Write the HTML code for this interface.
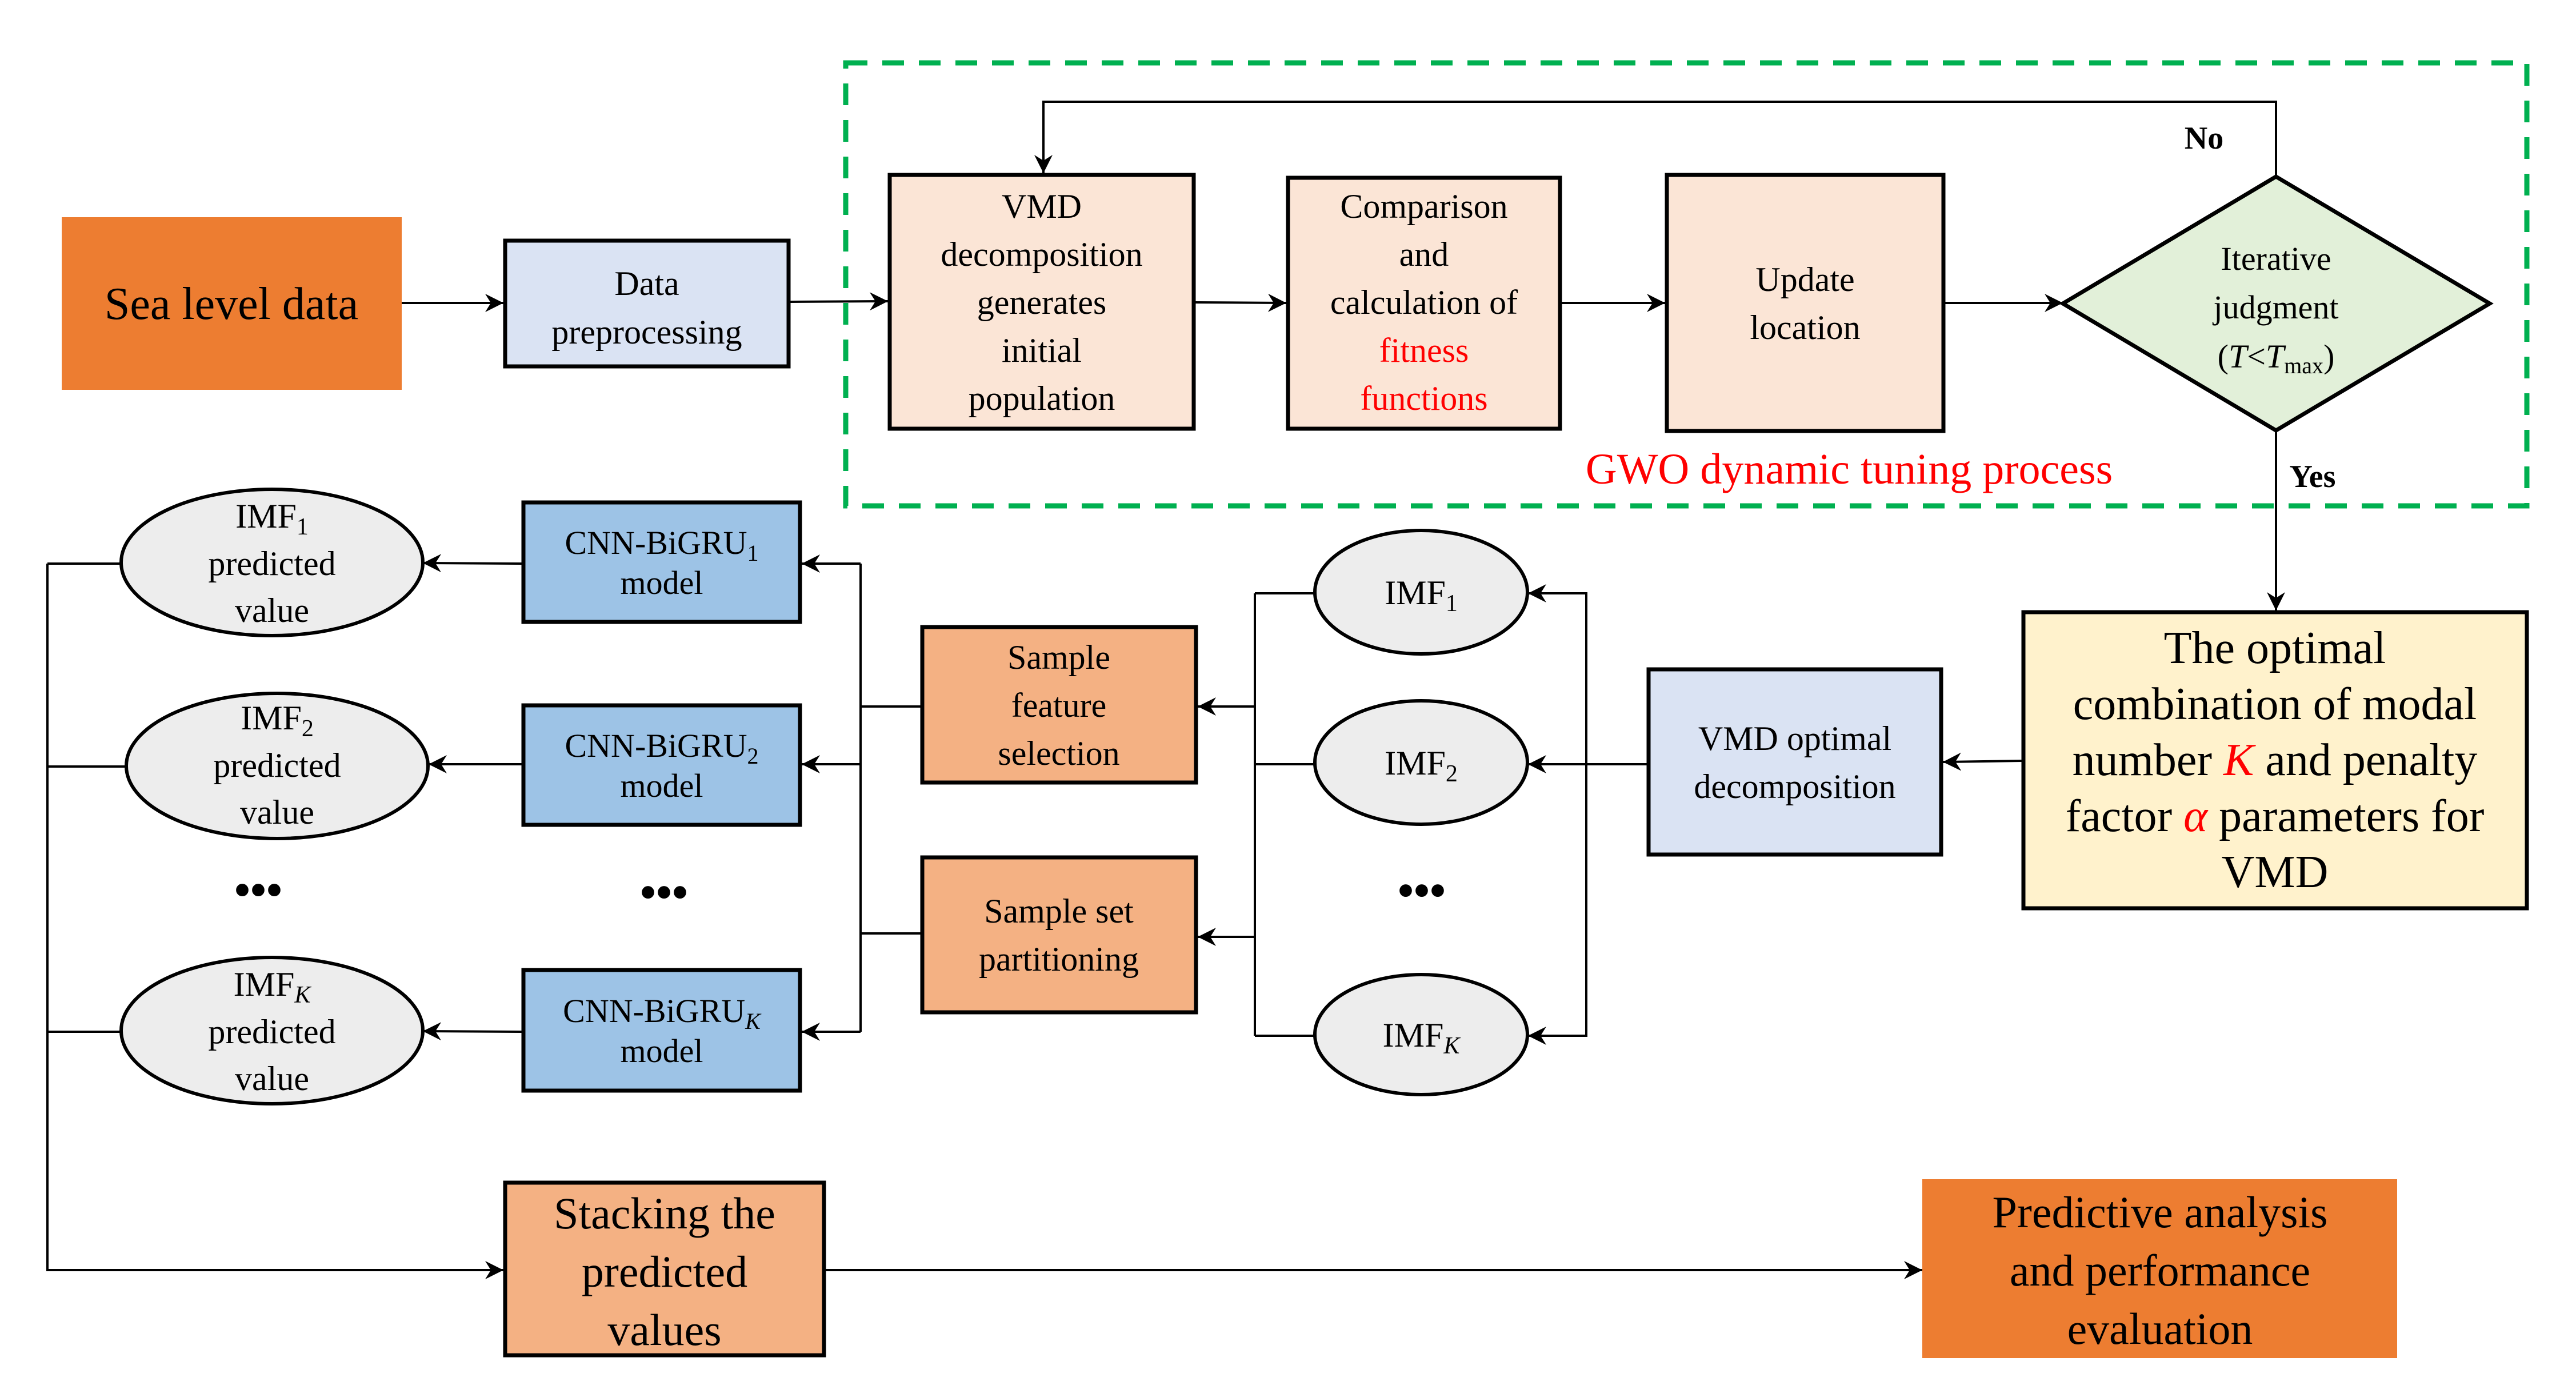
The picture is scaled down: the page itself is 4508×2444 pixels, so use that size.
<!DOCTYPE html>
<html><head><meta charset="utf-8"><style>
html,body{margin:0;padding:0;background:#fff;}
svg{display:block;}
svg text{font-family:"Liberation Serif","DejaVu Serif",serif;fill:#000;text-anchor:middle;}
</style></head><body>
<svg width="4508" height="2444" viewBox="0 0 4508 2444" xmlns="http://www.w3.org/2000/svg" font-family="Liberation Serif, DejaVu Serif, serif">
<defs>
<marker id="a" markerUnits="userSpaceOnUse" markerWidth="38" markerHeight="38" refX="32" refY="16" orient="auto">
<path d="M0,0 L32,16 L0,32 L10,16 z" fill="#000"/>
</marker>
</defs>
<rect width="4508" height="2444" fill="#fff"/>

<rect x="1480" y="110" width="2942" height="775" fill="none" stroke="#00B050" stroke-width="9" stroke-dasharray="38,26"/>

<g stroke="#000" stroke-width="4" fill="none">
<line x1="703" y1="530" x2="881" y2="530" marker-end="url(#a)"/>
<line x1="1383" y1="528" x2="1554" y2="527" marker-end="url(#a)"/>
<line x1="2092" y1="529" x2="2251" y2="530" marker-end="url(#a)"/>
<line x1="2733" y1="530" x2="2914" y2="530" marker-end="url(#a)"/>
<line x1="3404" y1="530" x2="3610" y2="530" marker-end="url(#a)"/>
<polyline points="3983,309 3983,178 1826,178 1826,303" marker-end="url(#a)"/>
<line x1="3983" y1="753" x2="3983" y2="1068" marker-end="url(#a)"/>
<line x1="3538" y1="1331" x2="3400" y2="1333" marker-end="url(#a)"/>
<line x1="2882" y1="1337" x2="2674" y2="1337" marker-end="url(#a)"/>
<polyline points="2776,1337 2776,1038 2674,1038" marker-end="url(#a)"/>
<polyline points="2776,1337 2776,1812 2674,1812" marker-end="url(#a)"/>
<line x1="2300" y1="1038" x2="2196" y2="1038"/>
<line x1="2300" y1="1337" x2="2196" y2="1337"/>
<line x1="2300" y1="1812" x2="2196" y2="1812"/>
<line x1="2196" y1="1038" x2="2196" y2="1812"/>
<line x1="2196" y1="1236" x2="2096" y2="1236" marker-end="url(#a)"/>
<line x1="2196" y1="1639" x2="2096" y2="1639" marker-end="url(#a)"/>
<line x1="1611" y1="1236" x2="1506" y2="1236"/>
<line x1="1611" y1="1633" x2="1506" y2="1633"/>
<line x1="1506" y1="986" x2="1506" y2="1805"/>
<line x1="1506" y1="986" x2="1403" y2="986" marker-end="url(#a)"/>
<line x1="1506" y1="1337" x2="1403" y2="1337" marker-end="url(#a)"/>
<line x1="1506" y1="1805" x2="1403" y2="1805" marker-end="url(#a)"/>
<line x1="913" y1="986" x2="740" y2="985" marker-end="url(#a)"/>
<line x1="913" y1="1337" x2="750" y2="1337" marker-end="url(#a)"/>
<line x1="913" y1="1805" x2="740" y2="1804" marker-end="url(#a)"/>
<line x1="211" y1="986" x2="83" y2="986"/>
<line x1="220" y1="1341" x2="83" y2="1341"/>
<line x1="211" y1="1805" x2="83" y2="1805"/>
<polyline points="83,986 83,2222 881,2222" marker-end="url(#a)"/>
<line x1="1445" y1="2222" x2="3364" y2="2222" marker-end="url(#a)"/>
</g>

<g font-family="Liberation Serif, DejaVu Serif, serif">
<rect x="108" y="380" width="595" height="302" fill="#ED7D31"/>
<text x="405" y="558" font-size="80">Sea level data</text>

<rect x="884" y="421" width="496" height="220" fill="#DAE3F3" stroke="#000" stroke-width="7"/>
<text x="1132" y="516" font-size="60">Data</text>
<text x="1132" y="601" font-size="60">preprocessing</text>

<rect x="1557" y="306" width="532" height="444" fill="#FBE5D6" stroke="#000" stroke-width="7"/>
<g font-size="60">
<text x="1823" y="381">VMD</text>
<text x="1823" y="465">decomposition</text>
<text x="1823" y="549">generates</text>
<text x="1823" y="633">initial</text>
<text x="1823" y="717">population</text>
</g>

<rect x="2254" y="311" width="476" height="439" fill="#FBE5D6" stroke="#000" stroke-width="7"/>
<g font-size="60">
<text x="2492" y="381">Comparison</text>
<text x="2492" y="465">and</text>
<text x="2492" y="549">calculation of</text>
<text x="2492" y="633" style="fill:#FF0000">fitness</text>
<text x="2492" y="717" style="fill:#FF0000">functions</text>
</g>

<rect x="2917" y="306" width="484" height="448" fill="#FBE5D6" stroke="#000" stroke-width="7"/>
<text x="3159" y="509" font-size="60">Update</text>
<text x="3159" y="593" font-size="60">location</text>

<polygon points="3983,309 4357,531 3983,753 3610,531" fill="#E2F0D9" stroke="#000" stroke-width="7"/>
<g font-size="58">
<text x="3983" y="472">Iterative</text>
<text x="3983" y="557">judgment</text>
<text x="3983" y="643">(<tspan font-style="italic">T</tspan>&lt;<tspan font-style="italic">T</tspan><tspan font-size="40" dy="10">max</tspan><tspan dy="-10">)</tspan></text>
</g>
<text x="3857" y="260" font-size="56" font-weight="bold">No</text>
<text x="4047" y="852" font-size="56" font-weight="bold">Yes</text>
<text x="3236" y="846" font-size="76" style="fill:#FF0000">GWO dynamic tuning process</text>

<rect x="3541" y="1071" width="881" height="518" fill="#FFF2CC" stroke="#000" stroke-width="7"/>
<g font-size="80">
<text x="3981" y="1160">The optimal</text>
<text x="3981" y="1258">combination of modal</text>
<text x="3981" y="1356">number <tspan font-style="italic" style="fill:#FF0000">K</tspan> and penalty</text>
<text x="3981" y="1454">factor <tspan font-style="italic" style="fill:#FF0000">α</tspan> parameters for</text>
<text x="3981" y="1552">VMD</text>
</g>

<rect x="2885" y="1171" width="512" height="324" fill="#DAE3F3" stroke="#000" stroke-width="7"/>
<text x="3141" y="1312" font-size="60">VMD optimal</text>
<text x="3141" y="1396" font-size="60">decomposition</text>

<g fill="#EDEDED" stroke="#000" stroke-width="6">
<ellipse cx="2487" cy="1036" rx="186" ry="108"/>
<ellipse cx="2487" cy="1334" rx="186" ry="108"/>
<ellipse cx="2487" cy="1810" rx="186" ry="105"/>
</g>
<g font-size="60">
<text x="2487" y="1057">IMF<tspan font-size="42" dy="12">1</tspan></text>
<text x="2487" y="1355">IMF<tspan font-size="42" dy="12">2</tspan></text>
<text x="2487" y="1831">IMF<tspan font-size="42" dy="12" font-style="italic">K</tspan></text>
</g>
<text x="2488" y="1585" font-size="80" font-weight="bold">•••</text>

<rect x="1614" y="1097" width="479" height="272" fill="#F4B183" stroke="#000" stroke-width="7"/>
<g font-size="60">
<text x="1853" y="1170">Sample</text>
<text x="1853" y="1254">feature</text>
<text x="1853" y="1338">selection</text>
</g>
<rect x="1614" y="1500" width="479" height="271" fill="#F4B183" stroke="#000" stroke-width="7"/>
<text x="1853" y="1614" font-size="60">Sample set</text>
<text x="1853" y="1698" font-size="60">partitioning</text>

<g fill="#9DC3E6" stroke="#000" stroke-width="7">
<rect x="916" y="879" width="484" height="209"/>
<rect x="916" y="1234" width="484" height="209"/>
<rect x="916" y="1697" width="484" height="211"/>
</g>
<g font-size="58">
<text x="1158" y="969">CNN-BiGRU<tspan font-size="40" dy="12">1</tspan></text>
<text x="1158" y="1039">model</text>
<text x="1158" y="1324">CNN-BiGRU<tspan font-size="40" dy="12">2</tspan></text>
<text x="1158" y="1394">model</text>
<text x="1158" y="1788">CNN-BiGRU<tspan font-size="40" dy="12" font-style="italic">K</tspan></text>
<text x="1158" y="1858">model</text>
</g>
<text x="1162" y="1588" font-size="80" font-weight="bold">•••</text>

<g fill="#EDEDED" stroke="#000" stroke-width="6">
<ellipse cx="476" cy="984" rx="264" ry="128"/>
<ellipse cx="485" cy="1340" rx="264" ry="127"/>
<ellipse cx="476" cy="1803" rx="264" ry="128"/>
</g>
<g font-size="60">
<text x="476" y="923">IMF<tspan font-size="42" dy="12">1</tspan></text>
<text x="476" y="1006">predicted</text>
<text x="476" y="1088">value</text>
<text x="485" y="1276">IMF<tspan font-size="42" dy="12">2</tspan></text>
<text x="485" y="1359">predicted</text>
<text x="485" y="1441">value</text>
<text x="476" y="1742">IMF<tspan font-size="42" dy="12" font-style="italic">K</tspan></text>
<text x="476" y="1825">predicted</text>
<text x="476" y="1907">value</text>
</g>
<text x="452" y="1584" font-size="80" font-weight="bold">•••</text>

<rect x="884" y="2069" width="558" height="302" fill="#F4B183" stroke="#000" stroke-width="7"/>
<g font-size="78">
<text x="1163" y="2149">Stacking the</text>
<text x="1163" y="2251">predicted</text>
<text x="1163" y="2353">values</text>
</g>
<rect x="3364" y="2063" width="831" height="313" fill="#ED7D31"/>
<g font-size="78">
<text x="3780" y="2147">Predictive analysis</text>
<text x="3780" y="2249">and performance</text>
<text x="3780" y="2351">evaluation</text>
</g>
</g>
</svg>
</body></html>
